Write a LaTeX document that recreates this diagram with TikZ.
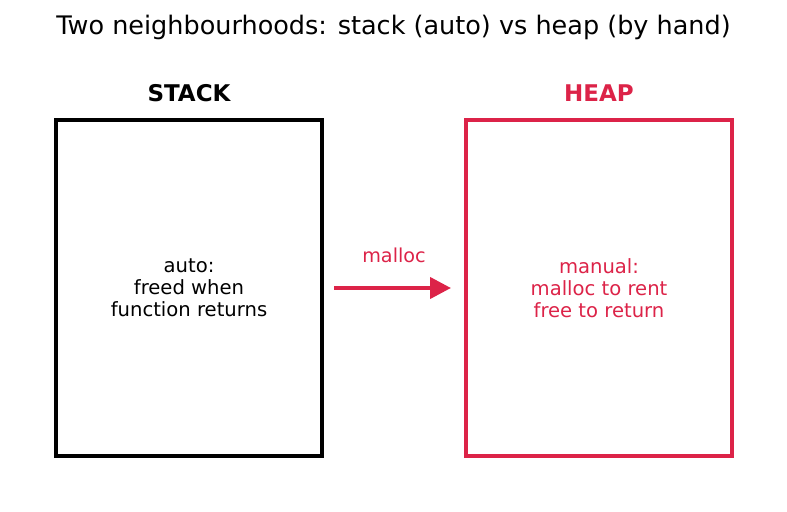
\documentclass[tikz,border=0pt]{standalone}
\usepackage{fontspec}
\setmainfont{DejaVu Sans}
\usetikzlibrary{arrows.meta}
\definecolor{heapcol}{HTML}{DC2348}
\tikzset{
  region/.style={draw,rectangle,line width=4.5bp,outer sep=0pt,minimum width=266bp,minimum height=336bp,align=center,font=\fontsize{19.6bp}{22bp}\selectfont},
  heading/.style={font=\fontsize{23bp}{27bp}\selectfont\bfseries},
}
\begin{document}
\begin{tikzpicture}[>={Triangle[length=21bp,width=21bp]},line join=miter]
  \useasboundingbox (0bp,0bp) rectangle (787bp,512bp);
%%
  \node (title) at (393.5bp,485bp) [font=\fontsize{25.5bp}{30bp}\selectfont] {Two neighbourhoods: stack (auto) vs heap (by hand)};
  \node (stacklbl) at (189bp,419bp) [heading] {STACK};
  \node (heaplbl) at (599bp,419bp) [heading,text=heapcol] {HEAP};
  \node (stack) at (189bp,224bp) [region] {auto:\\freed when\\function returns};
  \node (heap) at (599bp,224bp) [region,draw=heapcol,text=heapcol] {manual:\\malloc to rent\\free to return};
  \draw [->,heapcol,line width=4.2bp,shorten <=12bp,shorten >=15bp] (stack) -- node[above=20bp,font=\fontsize{19.2bp}{22bp}\selectfont] (mlbl) {malloc} (heap);
%
\end{tikzpicture}
\end{document}
